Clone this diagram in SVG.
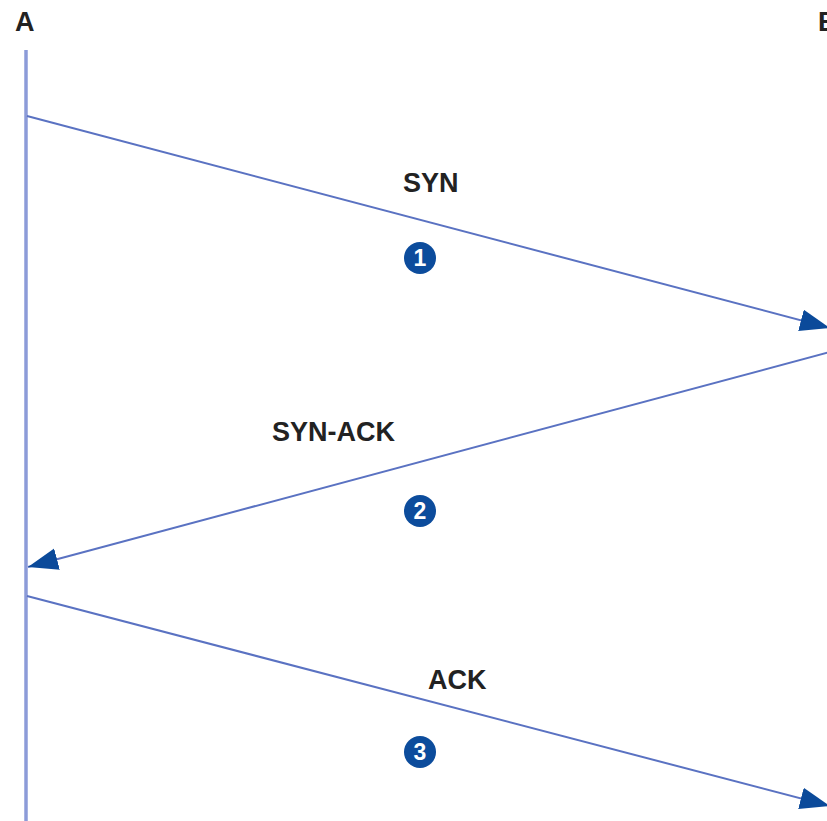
<svg xmlns="http://www.w3.org/2000/svg" width="827" height="821" viewBox="0 0 827 821">
  <style>
    .lbl { font-family: "Liberation Sans", Arial, sans-serif; font-weight: bold; font-size: 27px; fill: #222222; }
    .life { stroke: #8c9bd8; stroke-width: 3.5; fill: none; }
    .msg { stroke: #5a72c2; stroke-width: 2; fill: none; marker-end: url(#head); }
    .badge circle { fill: #0c4c9c; }
    .badge text { font-family: "Liberation Sans", Arial, sans-serif; font-weight: bold; font-size: 23px; fill: #ffffff; text-anchor: middle; }
  </style>
  <defs>
    <marker id="head" markerUnits="userSpaceOnUse" markerWidth="32" markerHeight="24" refX="30" refY="11" orient="auto">
      <path d="M0,0 L30,11 L0,22 Z" fill="#0b4a9a"/>
    </marker>
  </defs>
  <rect width="827" height="821" fill="#ffffff"/>

  <g id="nodeA">
    <text class="lbl" x="15" y="31">A</text>
    <line class="life" x1="26" y1="50" x2="26" y2="821"/>
  </g>
  <g id="nodeB">
    <text class="lbl" x="818" y="31">B</text>
  </g>

  <g id="connectors">
    <line class="msg" x1="27" y1="116" x2="830" y2="328"/>
    <line class="msg" x1="830" y1="352" x2="28" y2="567"/>
    <line class="msg" x1="27" y1="596" x2="830" y2="806"/>
  </g>

  <g id="step1">
    <text class="lbl" x="403" y="192">SYN</text>
    <g class="badge"><circle cx="420" cy="258" r="16"/><text x="420" y="266">1</text></g>
  </g>
  <g id="step2">
    <text class="lbl" x="272" y="441">SYN-ACK</text>
    <g class="badge"><circle cx="420" cy="511" r="16"/><text x="420" y="519">2</text></g>
  </g>
  <g id="step3">
    <text class="lbl" x="428" y="689">ACK</text>
    <g class="badge"><circle cx="420" cy="752" r="16"/><text x="420" y="760">3</text></g>
  </g>
</svg>
